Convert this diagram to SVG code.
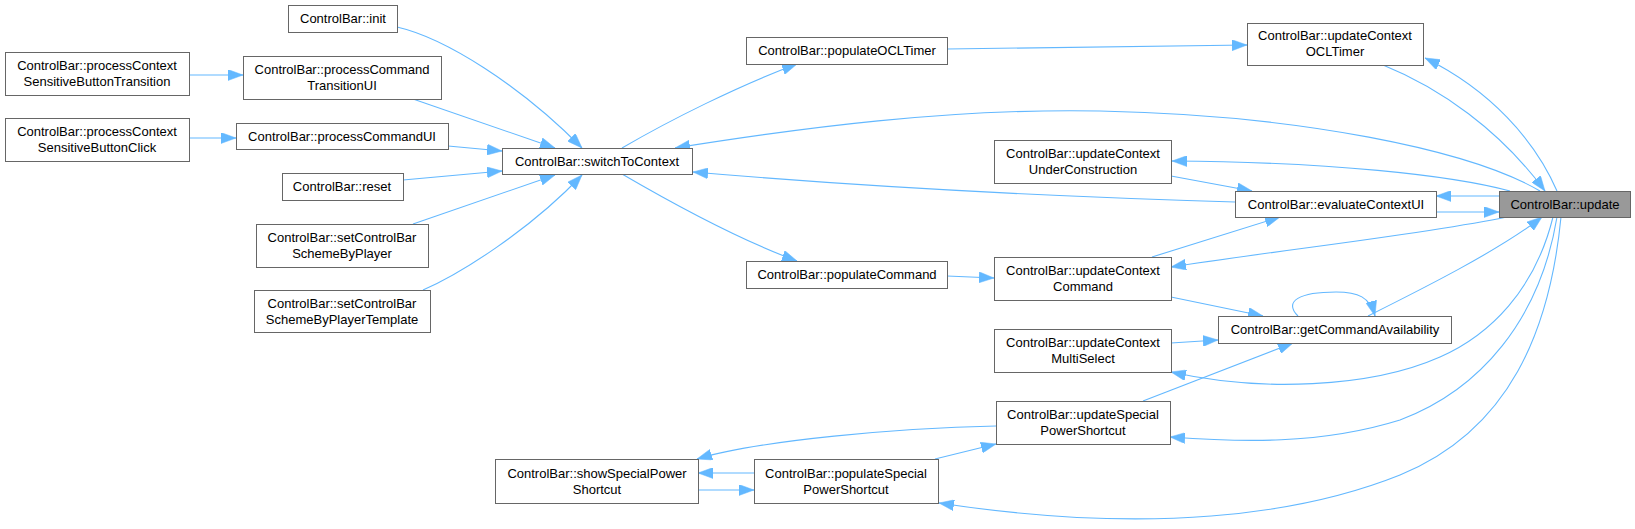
<svg xmlns="http://www.w3.org/2000/svg" width="1635" height="529" viewBox="0 0 1635 529">
<style>
.node rect{fill:#ffffff;stroke:#666666;stroke-width:1}
#n_update rect{fill:#999999}
.node text{font-family:"Liberation Sans",Arial,sans-serif;font-size:13px;text-anchor:middle;fill:#000000}
.edge{fill:none;stroke:#63b8ff;stroke-width:1.1;marker-end:url(#arr)}
</style>
<defs>
<marker id="arr" viewBox="0 0 15 11" refX="15" refY="5.5" markerWidth="15" markerHeight="11" markerUnits="userSpaceOnUse" orient="auto">
<path d="M0,0 L15,5.5 L0,11 z" fill="#63b8ff" stroke="#63b8ff" stroke-width="0.5"/>
</marker>
</defs>
<rect width="1635" height="529" fill="#ffffff"/>
<g id="edges">
<path class="edge" d="M189,75 L243,75"/>
<path class="edge" d="M189,138 L236,138"/>
<path class="edge" d="M397,27 C445,38 520,85 582,148"/>
<path class="edge" d="M413,99 L555,148"/>
<path class="edge" d="M448,146 L502,151"/>
<path class="edge" d="M403,180 L502,171"/>
<path class="edge" d="M413,224 L555,175"/>
<path class="edge" d="M423,290 C460,274 530,230 582,175"/>
<path class="edge" d="M622,148 C670,120 740,85 797,64"/>
<path class="edge" d="M622,174 C670,202 740,240 797,261"/>
<path class="edge" d="M947,49 L1247,45"/>
<path class="edge" d="M947,276 L994,278"/>
<path class="edge" d="M1540,191 C1470,150 1300,115 1100,111 C950,108 800,128 675,148"/>
<path class="edge" d="M1235,202 C1100,198 900,190 693,172"/>
<path class="edge" d="M1557,191 C1535,140 1490,90 1425,58"/>
<path class="edge" d="M1383,65 C1440,88 1500,130 1545,191"/>
<path class="edge" d="M1510,191 C1450,175 1330,162 1172,161"/>
<path class="edge" d="M1171,176 L1252,191"/>
<path class="edge" d="M1499,196 L1436,196"/>
<path class="edge" d="M1436,212 L1499,212"/>
<path class="edge" d="M1152,257 L1280,217"/>
<path class="edge" d="M1507,217 C1420,235 1280,250 1171,267"/>
<path class="edge" d="M1171,297 L1263,316"/>
<path class="edge" d="M1298,316 C1283,301 1300,292 1336,292 C1358,292 1370,297 1375,316"/>
<path class="edge" d="M1368,316 C1420,290 1500,250 1542,217"/>
<path class="edge" d="M1171,343 L1218,340"/>
<path class="edge" d="M1553,217 C1535,290 1490,335 1440,357 C1370,388 1260,392 1171,372"/>
<path class="edge" d="M1143,401 L1293,343"/>
<path class="edge" d="M1557,217 C1540,320 1480,390 1400,420 C1320,445 1240,442 1170,437"/>
<path class="edge" d="M1561,217 C1550,330 1510,430 1400,475 C1300,515 1150,535 939,503"/>
<path class="edge" d="M996,426 C900,428 760,440 697,459"/>
<path class="edge" d="M754,473 L698,473"/>
<path class="edge" d="M698,490 L754,490"/>
<path class="edge" d="M935,459 L996,444"/>
</g>
<g id="n_init" class="node"><rect x="288.5" y="5.5" width="109" height="27"/><text x="343" y="23.2">ControlBar::init</text></g>
<g id="n_pcsbt" class="node"><rect x="5.5" y="52.5" width="184" height="43"/><text x="97" y="70.3">ControlBar::processContext</text><text x="97" y="86.3">SensitiveButtonTransition</text></g>
<g id="n_pctui" class="node"><rect x="243.5" y="56.5" width="198" height="43"/><text x="342" y="74.3">ControlBar::processCommand</text><text x="342" y="90.3">TransitionUI</text></g>
<g id="n_pcsbc" class="node"><rect x="5.5" y="118.5" width="184" height="43"/><text x="97" y="136.3">ControlBar::processContext</text><text x="97" y="152.3">SensitiveButtonClick</text></g>
<g id="n_pcui" class="node"><rect x="236.5" y="123.5" width="212" height="26"/><text x="342" y="140.8">ControlBar::processCommandUI</text></g>
<g id="n_reset" class="node"><rect x="282.5" y="173.5" width="121" height="27"/><text x="342" y="191.2">ControlBar::reset</text></g>
<g id="n_scbsp" class="node"><rect x="256.5" y="224.5" width="172" height="43"/><text x="342" y="242">ControlBar::setControlBar</text><text x="342" y="258">SchemeByPlayer</text></g>
<g id="n_scbspt" class="node"><rect x="254.5" y="290.5" width="176" height="42"/><text x="342" y="308">ControlBar::setControlBar</text><text x="342" y="324">SchemeByPlayerTemplate</text></g>
<g id="n_stc" class="node"><rect x="502.5" y="148.5" width="190" height="26"/><text x="597" y="165.8">ControlBar::switchToContext</text></g>
<g id="n_poclt" class="node"><rect x="746.5" y="37.5" width="201" height="27"/><text x="847" y="55.2">ControlBar::populateOCLTimer</text></g>
<g id="n_pcmd" class="node"><rect x="746.5" y="261.5" width="201" height="27"/><text x="847" y="279.2">ControlBar::populateCommand</text></g>
<g id="n_ucoclt" class="node"><rect x="1247.5" y="23.5" width="176" height="42"/><text x="1335" y="40.3">ControlBar::updateContext</text><text x="1335" y="56.3">OCLTimer</text></g>
<g id="n_ucuc" class="node"><rect x="994.5" y="140.5" width="177" height="43"/><text x="1083" y="158.3">ControlBar::updateContext</text><text x="1083" y="174">UnderConstruction</text></g>
<g id="n_ecui" class="node"><rect x="1235.5" y="191.5" width="201" height="26"/><text x="1336" y="208.8">ControlBar::evaluateContextUI</text></g>
<g id="n_update" class="node"><rect x="1499.5" y="191.5" width="131" height="26"/><text x="1565" y="208.8">ControlBar::update</text></g>
<g id="n_uccmd" class="node"><rect x="994.5" y="257.5" width="177" height="43"/><text x="1083" y="275.3">ControlBar::updateContext</text><text x="1083" y="290.8">Command</text></g>
<g id="n_gca" class="node"><rect x="1218.5" y="316.5" width="233" height="27"/><text x="1335" y="334.2">ControlBar::getCommandAvailability</text></g>
<g id="n_ucms" class="node"><rect x="994.5" y="329.5" width="177" height="43"/><text x="1083" y="347">ControlBar::updateContext</text><text x="1083" y="363">MultiSelect</text></g>
<g id="n_usps" class="node"><rect x="996.5" y="401.5" width="174" height="43"/><text x="1083" y="419">ControlBar::updateSpecial</text><text x="1083" y="434.7">PowerShortcut</text></g>
<g id="n_ssps" class="node"><rect x="495.5" y="459.5" width="203" height="44"/><text x="597" y="478">ControlBar::showSpecialPower</text><text x="597" y="494">Shortcut</text></g>
<g id="n_psps" class="node"><rect x="754.5" y="459.5" width="184" height="44"/><text x="846" y="478">ControlBar::populateSpecial</text><text x="846" y="494">PowerShortcut</text></g>
</svg>
